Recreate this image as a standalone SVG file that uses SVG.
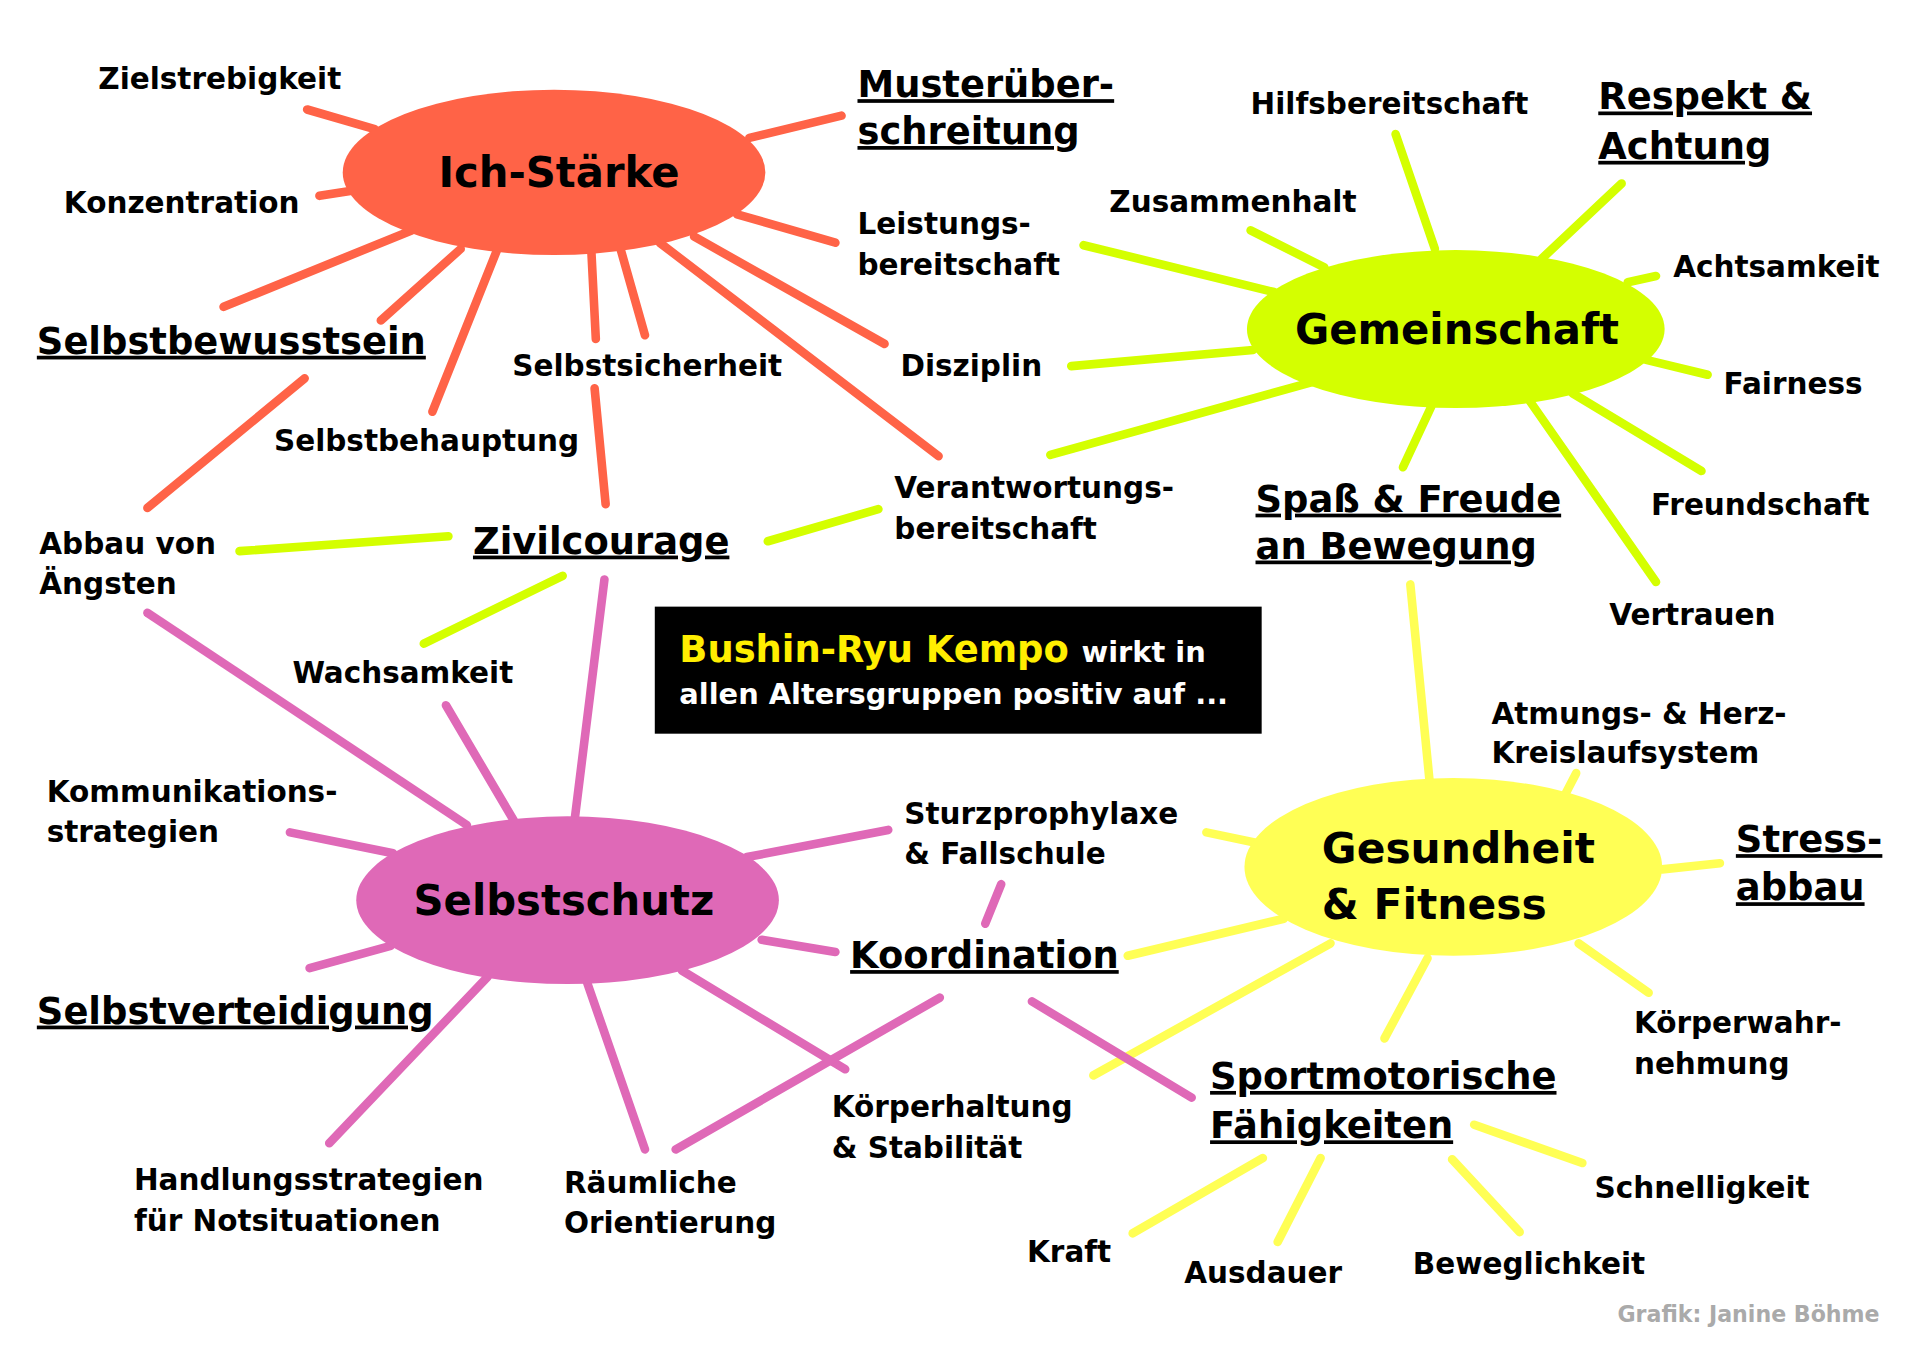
<svg xmlns="http://www.w3.org/2000/svg" width="1920" height="1357" viewBox="0 0 1920 1357">
<style>
text{font-family:"DejaVu Sans","Liberation Sans",sans-serif;font-weight:bold;fill:#000}
.l{font-size:24px}
.u{font-size:30px;text-decoration:underline}
.c{font-size:34px;text-anchor:middle}
line{stroke-width:7;stroke-linecap:round}
.r line{stroke:#ff6347}.g line{stroke:#d4ff00}.y line{stroke:#ffff55}.p line{stroke:#df69b7}
</style>
<rect width="1920" height="1357" fill="#fff"/>
<g transform="translate(0 -4) scale(1.2285 1.2336)">
<g id="connectors">
<g class="r">
<line x1="250" y1="92" x2="305" y2="108"/><line x1="260" y1="162" x2="285" y2="158"/>
<line x1="610" y1="115" x2="685" y2="97"/><line x1="600" y1="177" x2="680" y2="200"/>
<line x1="182" y1="252" x2="335" y2="190"/><line x1="310" y1="263" x2="375" y2="205"/>
<line x1="352" y1="337" x2="415" y2="180"/><line x1="480" y1="180" x2="485" y2="278"/>
<line x1="498" y1="180" x2="525" y2="275"/><line x1="565" y1="195" x2="720" y2="282"/>
<line x1="537" y1="200" x2="764" y2="373"/><line x1="248" y1="310" x2="120" y2="415"/>
<line x1="484" y1="318" x2="493" y2="412"/>
</g>
<g class="g">
<line x1="195" y1="450" x2="365" y2="438"/><line x1="625" y1="442" x2="715" y2="416"/>
<line x1="345" y1="525" x2="458" y2="470"/><line x1="882" y1="202" x2="1037" y2="240"/>
<line x1="1018" y1="190" x2="1078" y2="220"/><line x1="1136" y1="112" x2="1168" y2="205"/>
<line x1="1320" y1="152" x2="1255" y2="213"/><line x1="1325" y1="232" x2="1348" y2="227"/>
<line x1="872" y1="300" x2="1020" y2="287"/><line x1="855" y1="372" x2="1068" y2="313"/>
<line x1="1340" y1="295" x2="1390" y2="307"/><line x1="1280" y1="322" x2="1385" y2="385"/>
<line x1="1245" y1="328" x2="1348" y2="475"/><line x1="1165" y1="333" x2="1142" y2="382"/>
</g>
<g class="y">
<line x1="1148" y1="477" x2="1165" y2="650"/><line x1="1270" y1="655" x2="1283" y2="630"/>
<line x1="982" y1="678" x2="1030" y2="688"/><line x1="1353" y1="708" x2="1400" y2="703"/>
<line x1="918" y1="778" x2="1045" y2="748"/><line x1="1083" y1="768" x2="890" y2="875"/>
<line x1="1162" y1="780" x2="1127" y2="845"/><line x1="1285" y1="768" x2="1342" y2="808"/>
<line x1="1200" y1="915" x2="1288" y2="946"/><line x1="1028" y1="942" x2="922" y2="1003"/>
<line x1="1075" y1="942" x2="1040" y2="1010"/><line x1="1182" y1="943" x2="1237" y2="1002"/>
</g>
<g class="p">
<line x1="120" y1="500" x2="380" y2="672"/><line x1="363" y1="575" x2="418" y2="668"/>
<line x1="492" y1="473" x2="468" y2="666"/><line x1="236" y1="678" x2="320" y2="695"/>
<line x1="608" y1="698" x2="723" y2="676"/><line x1="252" y1="788" x2="318" y2="770"/>
<line x1="620" y1="765" x2="680" y2="775"/><line x1="815" y1="720" x2="802" y2="752"/>
<line x1="397" y1="795" x2="268" y2="930"/><line x1="478" y1="800" x2="525" y2="935"/>
<line x1="555" y1="790" x2="688" y2="870"/><line x1="765" y1="812" x2="550" y2="935"/>
<line x1="840" y1="815" x2="970" y2="893"/>
</g>
</g>
<g id="ich"><ellipse cx="451" cy="143" rx="172" ry="67" fill="#ff6347"/><text class="c" x="455" y="155">Ich-Stärke</text></g>
<g id="gemeinschaft"><ellipse cx="1185" cy="270" rx="170" ry="64" fill="#d4ff00"/><text class="c" x="1186" y="282">Gemeinschaft</text></g>
<g id="selbstschutz"><ellipse cx="462" cy="733" rx="172" ry="68" fill="#df69b7"/><text class="c" x="459" y="745">Selbstschutz</text></g>
<g id="gesundheit"><ellipse cx="1183" cy="706" rx="170" ry="72" fill="#ffff55"/><text style="font-size:34.5px" x="1076" y="703">Gesundheit</text><text style="font-size:34.5px" x="1076" y="748">&amp; Fitness</text></g>
<g id="title"><rect x="533" y="495" width="494" height="103" fill="#000"/>
<text x="553" y="540" style="font-size:30px;fill:#ffee00">Bushin-Ryu Kempo <tspan style="font-size:23.5px;fill:#fff">wirkt in</tspan></text>
<text x="553" y="574" style="font-size:23.5px;fill:#fff">allen Altersgruppen positiv auf ...</text></g>
<g id="labels">
<text class="l" x="80" y="75">Zielstrebigkeit</text>
<text class="u" x="698" y="82">Musterüber-</text><text class="u" x="698" y="120">schreitung</text>
<text class="l" x="52" y="176">Konzentration</text>
<text class="l" x="698" y="193">Leistungs-</text><text class="l" x="698" y="226">bereitschaft</text>
<text class="u" x="30" y="290">Selbstbewusstsein</text>
<text class="l" x="417" y="308">Selbstsicherheit</text>
<text class="l" x="733" y="308">Disziplin</text>
<text class="l" x="223" y="369">Selbstbehauptung</text>
<text class="l" x="728" y="407">Verantwortungs-</text><text class="l" x="728" y="440">bereitschaft</text>
<text class="l" x="32" y="452">Abbau von</text><text class="l" x="32" y="485">Ängsten</text>
<text class="u" x="385" y="452">Zivilcourage</text>
<text class="l" x="1018" y="96">Hilfsbereitschaft</text>
<text class="u" x="1301" y="92">Respekt &amp;</text><text class="u" x="1301" y="132">Achtung</text>
<text class="l" x="903" y="175">Zusammenhalt</text>
<text class="l" x="1362" y="228">Achtsamkeit</text>
<text class="l" x="1403" y="323">Fairness</text>
<text class="l" x="1344" y="421">Freundschaft</text>
<text class="u" x="1022" y="418">Spaß &amp; Freude</text><text class="u" x="1022" y="456">an Bewegung</text>
<text class="l" x="1310" y="510">Vertrauen</text>
<text class="l" x="238" y="557">Wachsamkeit</text>
<text class="l" x="1214" y="590">Atmungs- &amp; Herz-</text><text class="l" x="1214" y="622">Kreislaufsystem</text>
<text class="l" x="38" y="653">Kommunikations-</text><text class="l" x="38" y="686">strategien</text>
<text class="l" x="736" y="671">Sturzprophylaxe</text><text class="l" x="736" y="704">&amp; Fallschule</text>
<text class="u" x="1413" y="694">Stress-</text><text class="u" x="1413" y="733">abbau</text>
<text class="u" x="692" y="788">Koordination</text>
<text class="u" x="30" y="833">Selbstverteidigung</text>
<text class="l" x="1330" y="841">Körperwahr-</text><text class="l" x="1330" y="874">nehmung</text>
<text class="u" x="985" y="886">Sportmotorische</text><text class="u" x="985" y="926">Fähigkeiten</text>
<text class="l" x="677" y="909">Körperhaltung</text><text class="l" x="677" y="942">&amp; Stabilität</text>
<text class="l" x="109" y="968">Handlungsstrategien</text><text class="l" x="109" y="1001">für Notsituationen</text>
<text class="l" x="459" y="970">Räumliche</text><text class="l" x="459" y="1003">Orientierung</text>
<text class="l" x="1298" y="974">Schnelligkeit</text>
<text class="l" x="836" y="1026">Kraft</text>
<text class="l" x="964" y="1043">Ausdauer</text>
<text class="l" x="1150" y="1036">Beweglichkeit</text>
<text x="1530" y="1075" style="font-size:18px;fill:#aaa;text-anchor:end">Grafik: Janine Böhme</text>
</g>
</g>
</svg>
